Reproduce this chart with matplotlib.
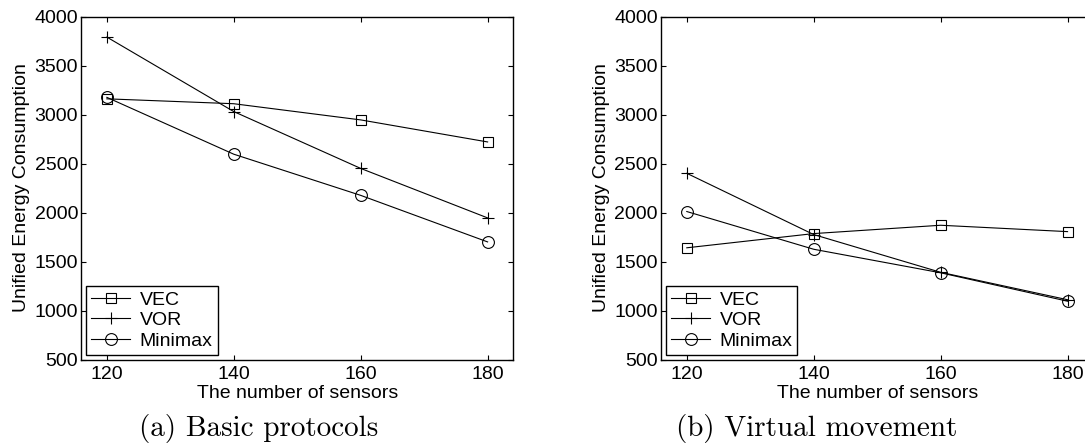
import matplotlib.pyplot as plt

plt.rcParams['font.family'] = ['Liberation Sans', 'DejaVu Sans']

sensors = [120, 140, 160, 180]

# (a) basic protocols
basic_vec = [3160, 3110, 2945, 2720]
basic_vor = [3790, 3030, 2450, 1945]
basic_minimax = [3175, 2595, 2175, 1700]

# (b) virtual movement
virt_vec = [1640, 1785, 1870, 1805]
virt_vor = [2400, 1775, 1390, 1110]
virt_minimax = [2010, 1625, 1385, 1095]

series_names = ['VEC', 'VOR', 'Minimax']
markers = ['s', '+', 'o']
msizes = {'s': 6.5, '+': 9, 'o': 8.5}
captions = ['(a) Basic protocols', '(b) Virtual movement']
caption_x = [0.2387, 0.753]

fig = plt.figure(figsize=(10.85, 4.45), dpi=100)
ax1 = fig.add_axes([0.0751, 0.1921, 0.3977, 0.7708])
ax2 = fig.add_axes([0.6096, 0.1921, 0.3977, 0.7708])

panels = [(ax1, [basic_vec, basic_vor, basic_minimax]),
          (ax2, [virt_vec, virt_vor, virt_minimax])]

for i, (ax, data) in enumerate(panels):
    for name, m, vals in zip(series_names, markers, data):
        ax.plot(sensors, vals, color='black', lw=0.8, marker=m,
                markersize=msizes[m], mfc='none', mec='black',
                mew=0.8, label=name)
    ax.set_xlim(116, 184)
    ax.set_ylim(500, 4000)
    ax.set_xticks(sensors)
    ax.set_yticks(range(500, 4001, 500))
    ax.tick_params(direction='in', top=True, right=True, labelsize=14,
                   length=3.5, width=0.8)
    ax.tick_params(axis='x', pad=5)
    ax.tick_params(axis='y', pad=2.5)
    for s in ax.spines.values():
        s.set_linewidth(1.0)
    ax.set_xlabel('The number of sensors', fontsize=14, labelpad=1)
    ax.set_ylabel('Unified Energy Consumption', fontsize=14, labelpad=3)
    leg = ax.legend(loc='lower left', fontsize=14, fancybox=False,
                    framealpha=1, edgecolor='black', borderaxespad=0.25,
                    handlelength=2.0, handletextpad=0.5, labelspacing=0.15,
                    borderpad=0.25)
    leg.get_frame().set_linewidth(1.0)
    fig.text(caption_x[i], 0.0202, captions[i], ha='center',
             va='baseline', fontsize=21, family=['cmr10', 'DejaVu Serif'])

fig.savefig('out.png', dpi=100)
